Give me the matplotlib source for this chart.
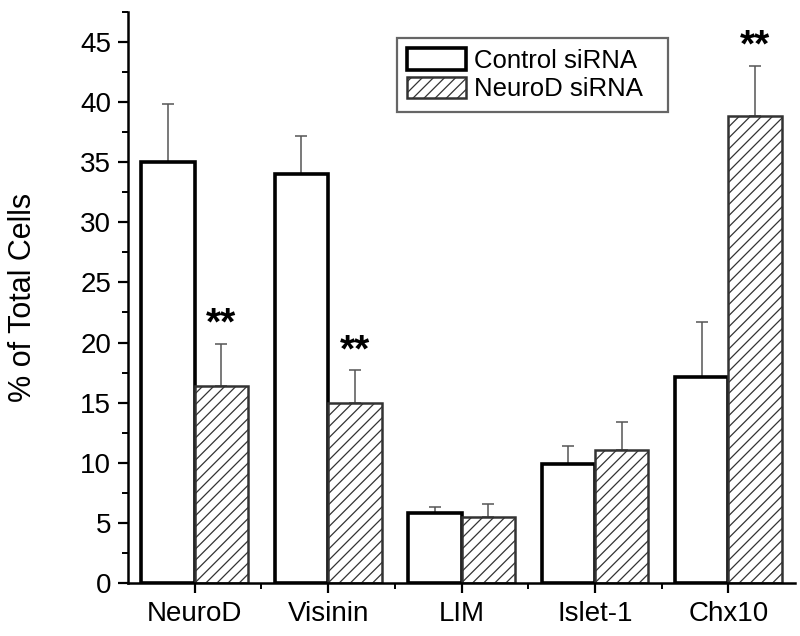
import matplotlib
matplotlib.use("Agg")
import matplotlib.pyplot as plt
import numpy as np
from matplotlib.ticker import MultipleLocator, FixedLocator

plt.rcParams['font.family'] = ['Liberation Sans', 'DejaVu Sans']
plt.rcParams['hatch.color'] = '#444444'
plt.rcParams['hatch.linewidth'] = 0.9

categories = ["NeuroD", "Visinin", "LIM", "Islet-1", "Chx10"]
control = [35.0, 34.0, 5.85, 9.9, 17.1]
control_err = [4.8, 3.2, 0.5, 1.5, 4.6]
neurod = [16.4, 15.0, 5.45, 11.05, 38.8]
neurod_err = [3.5, 2.7, 1.1, 2.35, 4.2]
sig_neurod = ["**", "**", "", "", "**"]

fig = plt.figure(figsize=(8, 6.36), dpi=100)
ax = fig.add_axes([0.16, 0.0833, 0.834, 0.898])

x = np.arange(1, len(categories) + 1)
w = 0.4
ax.bar(x - w/2, control, w, color='white', edgecolor='black', linewidth=2.6,
       label='Control siRNA', zorder=2)
ax.bar(x + w/2, neurod, w, color='white', edgecolor='#333333', linewidth=1.8,
       hatch='///', label='NeuroD siRNA', zorder=2)
ax.errorbar(x - w/2, control, yerr=[np.zeros(len(control)), control_err], fmt='none',
            ecolor='#555555', elinewidth=1.1, capsize=4.5, capthick=1.1, zorder=1)
ax.errorbar(x + w/2, neurod, yerr=[np.zeros(len(neurod)), neurod_err], fmt='none',
            ecolor='#555555', elinewidth=1.1, capsize=4.5, capthick=1.1, zorder=1)

for xi, v, e, s in zip(x + w/2, neurod, neurod_err, sig_neurod):
    if s:
        ax.annotate(s, xy=(xi, v + e), xytext=(0, 6.5), textcoords='offset points',
                    ha='center', va='baseline', fontsize=28, fontweight='bold')

ax.set_xlim(0.5, 5.5)
ax.set_ylim(0, 47.5)
ax.set_xticks(x)
ax.set_xticklabels(categories)
ax.xaxis.set_minor_locator(FixedLocator([1.5, 2.5, 3.5, 4.5]))
ax.yaxis.set_major_locator(MultipleLocator(5))
ax.yaxis.set_minor_locator(MultipleLocator(2.5))
ax.tick_params(axis='both', which='major', direction='out', length=7, width=1.6,
               labelsize=20, pad=5)
ax.tick_params(axis='x', which='major', pad=6)
ax.tick_params(axis='both', which='minor', direction='out', length=4.5, width=1.4)
ax.spines['top'].set_visible(False)
ax.spines['right'].set_visible(False)
ax.spines['left'].set_linewidth(1.8)
ax.spines['bottom'].set_linewidth(1.8)
ax.set_ylabel('% of Total Cells', fontsize=22, va='center')
ax.yaxis.set_label_coords(-0.158, 0.5)

leg = ax.legend(loc='upper left', bbox_to_anchor=(0.403, 0.954, 0.407, 0),
                mode='expand', borderaxespad=0,
                fontsize=18.5, frameon=True, fancybox=False, edgecolor='#666666',
                handlelength=2.3, handleheight=0.9, borderpad=0.4,
                labelspacing=0.15, handletextpad=0.3)
leg.get_frame().set_linewidth(1.6)
leg.get_frame().set_alpha(None)

fig.savefig("out.png", dpi=100)
